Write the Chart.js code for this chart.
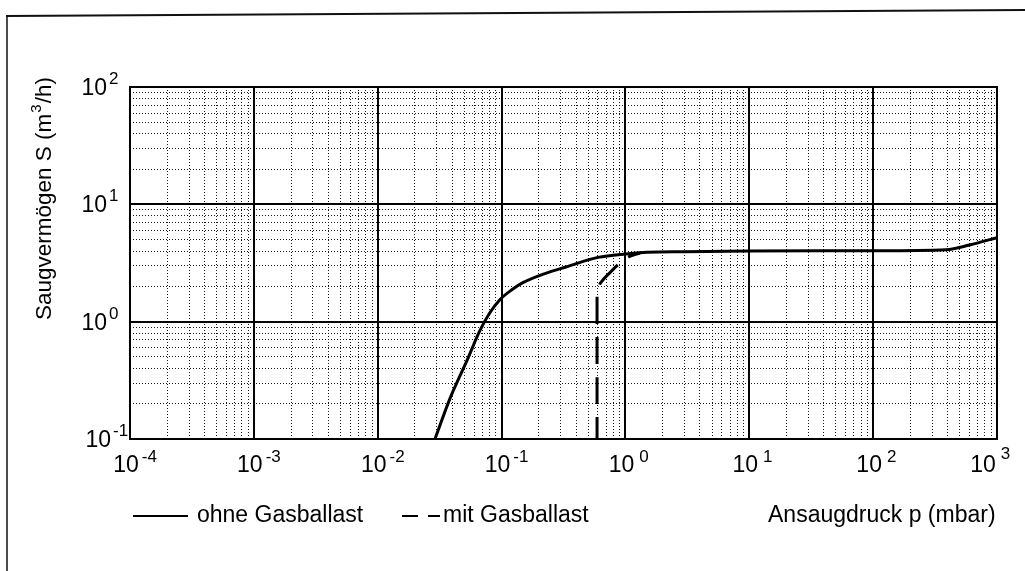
<!DOCTYPE html>
<html><head><meta charset="utf-8">
<script src="https://cdn.jsdelivr.net/npm/chart.js@4"></script>
<style>html,body{margin:0;padding:0;background:#fff}#wrap{width:1025px;height:571px;position:relative}</style>
</head><body><div id="wrap"><canvas id="c" width="1025" height="571"></canvas></div>
<script>
// ---- data ----
const xDecadeExponents = [-4, -3, -2, -1, 0, 1, 2, 3];
const yDecadeExponents = [-1, 0, 1, 2];
const xTickLabels = ['-4', '-3', '-2', '-1', '0', '1', '2', '3'];
const yTickLabels = ['-1', '0', '1', '2'];
const minorMultipliers = [1, 2, 3, 4, 5, 6, 7, 8, 9];

const seriesLabels = ['ohne Gasballast', 'mit Gasballast'];
const ohnePressure = [0.029, 0.0383, 0.0525, 0.0668, 0.0804, 0.0969, 0.121, 0.1486, 0.2236, 0.3365, 0.6, 1.0, 1.5, 3, 10, 100, 390, 600, 1000];
const ohneSpeed    = [0.1, 0.221, 0.465, 0.838, 1.19, 1.54, 1.87, 2.15, 2.57, 2.94, 3.53, 3.78, 3.9, 3.95, 4.0, 4.02, 4.1, 4.5, 5.2];
const mitPressure  = [0.59, 0.59, 0.63, 0.75, 0.9, 1.08, 1.31];
const mitSpeed     = [0.1, 1.9, 2.14, 2.62, 3.16, 3.6, 3.85];
const xAxisTitle = 'Ansaugdruck p (mbar)';
const yAxisTitleParts = ['Saugvermögen S (m', '3', '/h)'];

// ---- build ----
const FONT = '"Liberation Sans", Arial, Helvetica, sans-serif';
const xMin = Math.pow(10, xDecadeExponents[0]), xMax = Math.pow(10, xDecadeExponents[xDecadeExponents.length - 1]);
const yMin = Math.pow(10, yDecadeExponents[0]), yMax = Math.pow(10, yDecadeExponents[yDecadeExponents.length - 1]);

function logTicks(exps) {
  const out = [];
  for (let i = 0; i < exps.length; i++) {
    const base = Math.pow(10, exps[i]);
    if (i === exps.length - 1) { out.push({ value: base }); break; }
    minorMultipliers.forEach(m => out.push({ value: m * base }));
  }
  return out;
}
function isDecade(v) {
  const l = Math.log10(v);
  return Math.abs(l - Math.round(l)) < 1e-6;
}
const toPts = (xs, ys) => xs.map((x, i) => ({ x: x, y: ys[i] }));

const decor = {
  id: 'decor',
  beforeDatasetsDraw(chart) {
    const { ctx, scales: { x, y }, chartArea: a } = chart;
    ctx.save();
    ctx.strokeStyle = '#000';
    ctx.lineWidth = 2;
    xDecadeExponents.forEach(e => {
      const px = Math.round(x.getPixelForValue(Math.pow(10, e)));
      ctx.beginPath(); ctx.moveTo(px, a.top - 1); ctx.lineTo(px, a.bottom + 1); ctx.stroke();
    });
    yDecadeExponents.forEach(e => {
      const py = Math.round(y.getPixelForValue(Math.pow(10, e)));
      ctx.beginPath(); ctx.moveTo(a.left - 1, py); ctx.lineTo(a.right + 1, py); ctx.stroke();
    });
    ctx.restore();
  },
  afterDraw(chart) {
    const { ctx, scales: { x, y } } = chart;
    ctx.save();
    ctx.fillStyle = '#000';
    ctx.textBaseline = 'alphabetic';
    ctx.textAlign = 'left';
    // x tick labels
    xDecadeExponents.forEach((e, i) => {
      const px = x.getPixelForValue(Math.pow(10, e));
      ctx.font = '23px ' + FONT;
      const w10 = ctx.measureText('10').width;
      const cx = (i === xDecadeExponents.length - 1) ? px - 14 : px - 4;
      ctx.fillText('10', cx - w10 / 2, 472);
      ctx.font = '17px ' + FONT;
      const gap = e < 0 ? 3 : 5;
      ctx.fillText(xTickLabels[i], cx + w10 / 2 + gap, e === 3 ? 459 : 462);
    });
    // y tick labels
    yDecadeExponents.forEach((e, i) => {
      const py = y.getPixelForValue(Math.pow(10, e));
      ctx.font = '23px ' + FONT;
      const w10 = ctx.measureText('10').width;
      const right = e < 0 ? 111 : 107;
      ctx.fillText('10', right - w10, py + 8);
      ctx.font = '17px ' + FONT;
      ctx.fillText(yTickLabels[i], right + 2, py - 3);
    });
    // y axis title (rotated)
    ctx.save();
    ctx.translate(51, 320);
    ctx.rotate(-Math.PI / 2);
    ctx.font = '22.5px ' + FONT;
    ctx.fillText(yAxisTitleParts[0], 0, 0);
    const w1 = ctx.measureText(yAxisTitleParts[0]).width;
    ctx.font = '15px ' + FONT;
    ctx.fillText(yAxisTitleParts[1], w1 + 1, -10);
    const w2 = ctx.measureText(yAxisTitleParts[1]).width;
    ctx.font = '22.5px ' + FONT;
    ctx.fillText(yAxisTitleParts[2], w1 + w2 + 2, 0);
    ctx.restore();
    // x axis title
    ctx.font = '23px ' + FONT;
    ctx.fillText(xAxisTitle, 768, 522);
    // legend
    const ds = chart.data.datasets;
    ctx.strokeStyle = '#000';
    ctx.lineWidth = 2;
    ctx.setLineDash(ds[0].borderDash || []);
    ctx.beginPath(); ctx.moveTo(133, 516); ctx.lineTo(188, 516); ctx.stroke();
    ctx.fillText(ds[0].label, 197, 522);
    ctx.setLineDash([16, 10]);
    ctx.beginPath(); ctx.moveTo(402, 516); ctx.lineTo(440, 516); ctx.stroke();
    ctx.setLineDash([]);
    ctx.fillText(ds[1].label, 443, 522);
    // outer frame
    ctx.strokeStyle = '#111';
    ctx.lineWidth = 2;
    ctx.beginPath(); ctx.moveTo(6, 16); ctx.lineTo(1025, 10); ctx.stroke();
    ctx.lineWidth = 1.5;
    ctx.beginPath(); ctx.moveTo(7, 16); ctx.lineTo(7, 571); ctx.stroke();
    ctx.restore();
  }
};

const minorGrid = {
  drawTicks: false,
  lineWidth: 1,
  color: c => (c.tick && isDecade(c.tick.value)) ? 'rgba(0,0,0,0)' : '#1a1a1a'
};

new Chart(document.getElementById('c'), {
  type: 'scatter',
  data: {
    datasets: [
      { label: seriesLabels[0], data: toPts(ohnePressure, ohneSpeed), showLine: true, borderColor: '#000', borderWidth: 3, pointRadius: 0, cubicInterpolationMode: 'monotone', borderDash: [] },
      { label: seriesLabels[1], data: toPts(mitPressure, mitSpeed), showLine: true, borderColor: '#000', borderWidth: 3, pointRadius: 0, cubicInterpolationMode: 'monotone', borderDash: [27, 13], borderDashOffset: 5 }
    ]
  },
  options: {
    responsive: false,
    animation: false,
    layout: { padding: { left: 130, right: 28, top: 87, bottom: 132 } },
    plugins: { legend: { display: false }, tooltip: { enabled: false } },
    scales: {
      x: {
        type: 'logarithmic', min: xMin, max: xMax,
        afterBuildTicks: s => { s.ticks = logTicks(xDecadeExponents); },
        afterFit: s => { s.height = 0; },
        ticks: { display: false },
        grid: minorGrid,
        border: { display: false, dash: [1, 2] }
      },
      y: {
        type: 'logarithmic', min: yMin, max: yMax,
        afterBuildTicks: s => { s.ticks = logTicks(yDecadeExponents); },
        afterFit: s => { s.width = 0; },
        ticks: { display: false },
        grid: minorGrid,
        border: { display: false, dash: [1, 2] }
      }
    }
  },
  plugins: [decor]
});
</script>
</body></html>
